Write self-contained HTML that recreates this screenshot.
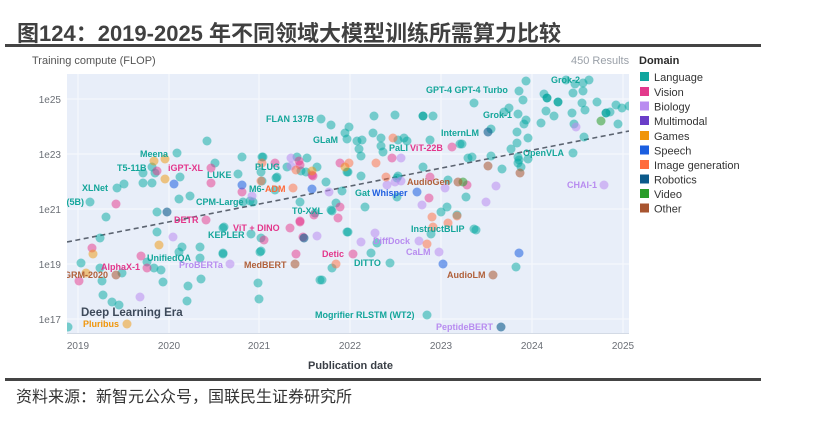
<!DOCTYPE html>
<html><head><meta charset="utf-8"><style>
html,body{margin:0;padding:0;background:#fff;}
svg{display:block;}
.t{font-family:"Liberation Sans",sans-serif;}
.L{fill:#00a8a0;fill-opacity:.5}
.Ld{fill:#00a39b;fill-opacity:.8}
.V{fill:#e6348a;fill-opacity:.5}
.B{fill:#b98cf0;fill-opacity:.55}
.G{fill:#f0950a;fill-opacity:.5}
.S{fill:#1a5ee0;fill-opacity:.55}
.I{fill:#ff6b3d;fill-opacity:.5}
.R{fill:#0b5a8a;fill-opacity:.6}
.D{fill:#2a9d2a;fill-opacity:.55}
.O{fill:#a85530;fill-opacity:.55}
.lb{font-family:"Liberation Sans",sans-serif;font-weight:bold;font-size:9px;}
.cL{fill:#14a69a}.cV{fill:#e3368b}.cB{fill:#b88cf0}.cO{fill:#b0603a}.cS{fill:#1f5fe0}.cI{fill:#ff6a3a}.cG{fill:#f0950a}
</style></head><body>
<svg width="816" height="432" viewBox="0 0 816 432" xmlns="http://www.w3.org/2000/svg">
<defs><clipPath id="pc"><rect x="67" y="74" width="562" height="259"/></clipPath></defs>
<!-- Title -->
<text x="17" y="41" font-family="'Liberation Sans','Noto Sans CJK SC',sans-serif" font-weight="bold" font-size="22" fill="#404040">图124：2019-2025 年不同领域大模型训练所需算力比较</text>
<rect x="5" y="44" width="756" height="3" fill="#444"/>
<!-- chart header -->
<text class="t" x="32" y="64" font-size="11" fill="#555">Training compute (FLOP)</text>
<text class="t" x="571" y="64" font-size="11" fill="#9aa0a8">450 Results</text>
<text class="t" x="639" y="64" font-size="11" font-weight="bold" fill="#2a2a2a">Domain</text>
<!-- plot bg -->
<rect x="67" y="74" width="562" height="259" fill="#e8eef9"/>
<g stroke="#f7f9fd" stroke-width="1">
<line x1="78" y1="74" x2="78" y2="333"/><line x1="169" y1="74" x2="169" y2="333"/><line x1="259" y1="74" x2="259" y2="333"/><line x1="350" y1="74" x2="350" y2="333"/><line x1="441" y1="74" x2="441" y2="333"/><line x1="532" y1="74" x2="532" y2="333"/><line x1="623" y1="74" x2="623" y2="333"/>
<line x1="67" y1="99" x2="629" y2="99"/><line x1="67" y1="154" x2="629" y2="154"/><line x1="67" y1="209" x2="629" y2="209"/><line x1="67" y1="264" x2="629" y2="264"/><line x1="67" y1="319" x2="629" y2="319"/>
</g>
<line x1="67" y1="333.5" x2="629" y2="333.5" stroke="#d3dae5" stroke-width="1"/>
<!-- y ticks -->
<g class="t" font-size="10" fill="#6b6f76" text-anchor="end">
<text x="61" y="103">1e25</text><text x="61" y="158">1e23</text><text x="61" y="213">1e21</text><text x="61" y="268">1e19</text><text x="61" y="323">1e17</text>
</g>
<g class="t" font-size="10" fill="#6b6f76" text-anchor="middle">
<text x="78" y="349">2019</text><text x="169" y="349">2020</text><text x="259" y="349">2021</text><text x="350" y="349">2022</text><text x="441" y="349">2023</text><text x="532" y="349">2024</text><text x="623" y="349">2025</text>
</g>
<text class="t" x="308" y="369" font-size="11" font-weight="bold" fill="#3a3f46">Publication date</text>
<g clip-path="url(#pc)">
<!-- trend -->
<line x1="67" y1="242" x2="629" y2="131" stroke="#5b6370" stroke-width="1.6" stroke-dasharray="5,3.5"/>
<g>
<!-- Language -->
<g class="L">
<circle cx="90" cy="202" r="4.5"/><circle cx="106" cy="217" r="4.5"/><circle cx="117" cy="188" r="4.5"/><circle cx="124" cy="184" r="4.5"/><circle cx="177" cy="153" r="4.5"/><circle cx="207" cy="141" r="4.5"/><circle cx="143" cy="173" r="4.5"/><circle cx="152" cy="167" r="4.5"/><circle cx="155" cy="173" r="4.5"/><circle cx="143" cy="183" r="4.5"/><circle cx="152" cy="183" r="4.5"/><circle cx="180" cy="177" r="4.5"/><circle cx="215" cy="163" r="4.5"/><circle cx="238" cy="174" r="4.5"/><circle cx="242" cy="157" r="4.5"/><circle cx="263" cy="157" r="4.5"/><circle cx="287" cy="167" r="4.5"/><circle cx="301" cy="171" r="4.5"/><circle cx="307" cy="158" r="4.5"/><circle cx="306" cy="172" r="4.5"/><circle cx="276" cy="178" r="4.5"/><circle cx="275" cy="190" r="4.5"/><circle cx="253" cy="202" r="4.5"/><circle cx="190" cy="196" r="4.5"/><circle cx="179" cy="199" r="4.5"/><circle cx="157" cy="212" r="4.5"/><circle cx="224" cy="227" r="4.5"/><circle cx="300" cy="202" r="4.5"/><circle cx="251" cy="234" r="4.5"/><circle cx="157" cy="232" r="4.5"/><circle cx="100" cy="238" r="4.5"/><circle cx="147" cy="262" r="4.5"/><circle cx="182" cy="247" r="4.5"/><circle cx="179" cy="252" r="4.5"/><circle cx="200" cy="258" r="4.5"/><circle cx="223" cy="254" r="4.5"/><circle cx="260" cy="252" r="4.5"/><circle cx="154" cy="268" r="4.5"/><circle cx="161" cy="270" r="4.5"/><circle cx="81" cy="263" r="4.5"/><circle cx="100" cy="268" r="4.5"/><circle cx="122" cy="273" r="4.5"/><circle cx="102" cy="281" r="4.5"/><circle cx="163" cy="282" r="4.5"/><circle cx="188" cy="286" r="4.5"/><circle cx="201" cy="279" r="4.5"/><circle cx="258" cy="283" r="4.5"/><circle cx="259" cy="299" r="4.5"/><circle cx="187" cy="301" r="4.5"/><circle cx="103" cy="295" r="4.5"/><circle cx="112" cy="302" r="4.5"/><circle cx="119" cy="305" r="4.5"/><circle cx="68" cy="327" r="4.5"/><circle cx="320" cy="280" r="4.5"/><circle cx="474" cy="229" r="4.5"/><circle cx="476" cy="230" r="4.5"/><circle cx="431" cy="234" r="4.5"/><circle cx="348" cy="232" r="4.5"/><circle cx="377" cy="243" r="4.5"/><circle cx="371" cy="253" r="4.5"/><circle cx="332" cy="268" r="4.5"/><circle cx="390" cy="263" r="4.5"/><circle cx="516" cy="267" r="4.5"/><circle cx="322" cy="280" r="4.5"/><circle cx="427" cy="315" r="4.5"/><circle cx="321" cy="119" r="4.5"/><circle cx="331" cy="125" r="4.5"/><circle cx="349" cy="127" r="4.5"/><circle cx="345" cy="133" r="4.5"/><circle cx="347" cy="139" r="4.5"/><circle cx="374" cy="116" r="4.5"/><circle cx="395" cy="115" r="4.5"/><circle cx="433" cy="116" r="4.5"/><circle cx="373" cy="133" r="4.5"/><circle cx="381" cy="138" r="4.5"/><circle cx="398" cy="140" r="4.5"/><circle cx="404" cy="138" r="4.5"/><circle cx="407" cy="141" r="4.5"/><circle cx="357" cy="141" r="4.5"/><circle cx="362" cy="140" r="4.5"/><circle cx="359" cy="149" r="4.5"/><circle cx="381" cy="146" r="4.5"/><circle cx="383" cy="152" r="4.5"/><circle cx="361" cy="156" r="4.5"/><circle cx="430" cy="140" r="4.5"/><circle cx="262" cy="157" r="4.5"/><circle cx="297" cy="157" r="4.5"/><circle cx="317" cy="167" r="4.5"/><circle cx="348" cy="172" r="4.5"/><circle cx="326" cy="182" r="4.5"/><circle cx="361" cy="176" r="4.5"/><circle cx="397" cy="178" r="4.5"/><circle cx="423" cy="167" r="4.5"/><circle cx="448" cy="180" r="4.5"/><circle cx="342" cy="191" r="4.5"/><circle cx="331" cy="210" r="4.5"/><circle cx="336" cy="203" r="4.5"/><circle cx="365" cy="207" r="4.5"/><circle cx="441" cy="212" r="4.5"/><circle cx="447" cy="207" r="4.5"/><circle cx="519" cy="91" r="4.5"/><circle cx="526" cy="81" r="4.5"/><circle cx="583" cy="83" r="4.5"/><circle cx="575" cy="84" r="4.5"/><circle cx="589" cy="80" r="4.5"/><circle cx="566" cy="80" r="4.5"/><circle cx="523" cy="100" r="4.5"/><circle cx="474" cy="103" r="4.5"/><circle cx="544" cy="94" r="4.5"/><circle cx="573" cy="93" r="4.5"/><circle cx="583" cy="91" r="4.5"/><circle cx="582" cy="103" r="4.5"/><circle cx="597" cy="102" r="4.5"/><circle cx="616" cy="105" r="4.5"/><circle cx="622" cy="108" r="4.5"/><circle cx="629" cy="106" r="4.5"/><circle cx="585" cy="110" r="4.5"/><circle cx="546" cy="111" r="4.5"/><circle cx="554" cy="116" r="4.5"/><circle cx="572" cy="113" r="4.5"/><circle cx="610" cy="112" r="4.5"/><circle cx="574" cy="124" r="4.5"/><circle cx="618" cy="124" r="4.5"/><circle cx="518" cy="114" r="4.5"/><circle cx="509" cy="108" r="4.5"/><circle cx="504" cy="112" r="4.5"/><circle cx="526" cy="120" r="4.5"/><circle cx="524" cy="124" r="4.5"/><circle cx="541" cy="123" r="4.5"/><circle cx="517" cy="132" r="4.5"/><circle cx="528" cy="138" r="4.5"/><circle cx="511" cy="149" r="4.5"/><circle cx="517" cy="143" r="4.5"/><circle cx="584" cy="137" r="4.5"/><circle cx="573" cy="153" r="4.5"/><circle cx="491" cy="129" r="4.5"/><circle cx="460" cy="144" r="4.5"/><circle cx="462" cy="144" r="4.5"/><circle cx="518" cy="157" r="4.5"/><circle cx="519" cy="160" r="4.5"/><circle cx="528" cy="159" r="4.5"/><circle cx="518" cy="163" r="4.5"/><circle cx="521" cy="167" r="4.5"/><circle cx="491" cy="156" r="4.5"/><circle cx="502" cy="169" r="4.5"/><circle cx="468" cy="158" r="4.5"/><circle cx="472" cy="157" r="4.5"/><circle cx="466" cy="197" r="4.5"/><circle cx="261" cy="172" r="4.5"/><circle cx="277" cy="177" r="4.5"/><circle cx="243" cy="202" r="4.5"/><circle cx="332" cy="211" r="4.5"/><circle cx="315" cy="213" r="4.5"/><circle cx="347" cy="172" r="4.5"/><circle cx="398" cy="176" r="4.5"/><circle cx="397" cy="197" r="4.5"/><circle cx="261" cy="238" r="4.5"/><circle cx="223" cy="228" r="4.5"/><circle cx="347" cy="232" r="4.5"/><circle cx="261" cy="251" r="4.5"/><circle cx="223" cy="253" r="4.5"/><circle cx="200" cy="247" r="4.5"/><circle cx="250" cy="201" r="4.5"/><circle cx="262" cy="181" r="4.5"/><circle cx="457" cy="215" r="4.5"/>
</g>
<g class="Ld"><circle cx="547" cy="98" r="4.5"/><circle cx="558" cy="102" r="4.5"/><circle cx="606" cy="113" r="4.5"/><circle cx="423" cy="116" r="4.5"/></g>
<g class="V">
<circle cx="116" cy="204" r="4.5"/><circle cx="157" cy="171" r="4.5"/><circle cx="211" cy="168" r="4.5"/><circle cx="211" cy="183" r="4.5"/><circle cx="300" cy="165" r="4.5"/><circle cx="299" cy="161" r="4.5"/><circle cx="312" cy="175" r="4.5"/><circle cx="275" cy="163" r="4.5"/><circle cx="242" cy="192" r="4.5"/><circle cx="206" cy="220" r="4.5"/><circle cx="300" cy="221" r="4.5"/><circle cx="314" cy="215" r="4.5"/><circle cx="290" cy="228" r="4.5"/><circle cx="300" cy="222" r="4.5"/><circle cx="92" cy="248" r="4.5"/><circle cx="141" cy="256" r="4.5"/><circle cx="264" cy="240" r="4.5"/><circle cx="296" cy="254" r="4.5"/><circle cx="303" cy="237" r="4.5"/><circle cx="147" cy="268" r="4.5"/><circle cx="79" cy="281" r="4.5"/><circle cx="353" cy="254" r="4.5"/><circle cx="392" cy="158" r="4.5"/><circle cx="340" cy="163" r="4.5"/><circle cx="338" cy="218" r="4.5"/><circle cx="340" cy="207" r="4.5"/><circle cx="429" cy="198" r="4.5"/><circle cx="430" cy="177" r="4.5"/><circle cx="452" cy="147" r="4.5"/><circle cx="467" cy="185" r="4.5"/><circle cx="313" cy="176" r="4.5"/>
</g>
<g class="B">
<circle cx="291" cy="158" r="4.5"/><circle cx="291" cy="166" r="4.5"/><circle cx="252" cy="196" r="4.5"/><circle cx="173" cy="237" r="4.5"/><circle cx="140" cy="297" r="4.5"/><circle cx="230" cy="264" r="4.5"/><circle cx="317" cy="236" r="4.5"/><circle cx="375" cy="233" r="4.5"/><circle cx="361" cy="242" r="4.5"/><circle cx="419" cy="241" r="4.5"/><circle cx="439" cy="252" r="4.5"/><circle cx="401" cy="158" r="4.5"/><circle cx="401" cy="181" r="4.5"/><circle cx="329" cy="192" r="4.5"/><circle cx="422" cy="205" r="4.5"/><circle cx="576" cy="127" r="4.5"/><circle cx="496" cy="186" r="4.5"/><circle cx="486" cy="202" r="4.5"/><circle cx="445" cy="188" r="4.5"/><circle cx="604" cy="185" r="4.5"/><circle cx="387" cy="185" r="4.5"/><circle cx="395" cy="182" r="4.5"/>
</g>
<g class="G"><circle cx="154" cy="161" r="4.5"/><circle cx="165" cy="159" r="4.5"/><circle cx="165" cy="179" r="4.5"/><circle cx="312" cy="171" r="4.5"/><circle cx="93" cy="254" r="4.5"/><circle cx="159" cy="245" r="4.5"/><circle cx="86" cy="273" r="4.5"/><circle cx="127" cy="324" r="4.5"/><circle cx="345" cy="167" r="4.5"/></g>
<g class="S"><circle cx="174" cy="184" r="4.5"/><circle cx="242" cy="185" r="4.5"/><circle cx="312" cy="189" r="4.5"/><circle cx="443" cy="264" r="4.5"/><circle cx="519" cy="253" r="4.5"/><circle cx="417" cy="192" r="4.5"/></g>
<g class="I"><circle cx="296" cy="170" r="4.5"/><circle cx="262" cy="163" r="4.5"/><circle cx="261" cy="181" r="4.5"/><circle cx="293" cy="188" r="4.5"/><circle cx="336" cy="264" r="4.5"/><circle cx="427" cy="244" r="4.5"/><circle cx="448" cy="223" r="4.5"/><circle cx="433" cy="227" r="4.5"/><circle cx="393" cy="138" r="4.5"/><circle cx="376" cy="163" r="4.5"/><circle cx="349" cy="163" r="4.5"/><circle cx="386" cy="177" r="4.5"/><circle cx="432" cy="217" r="4.5"/><circle cx="457" cy="216" r="4.5"/></g>
<g class="R"><circle cx="167" cy="212" r="4.5"/><circle cx="304" cy="238" r="4.5"/><circle cx="501" cy="327" r="4.5"/><circle cx="488" cy="132" r="4.5"/></g>
<g class="D"><circle cx="463" cy="182" r="4.5"/><circle cx="601" cy="121" r="4.5"/></g>
<g class="O"><circle cx="116" cy="275" r="4.5"/><circle cx="295" cy="264" r="4.5"/><circle cx="493" cy="275" r="4.5"/><circle cx="458" cy="182" r="4.5"/><circle cx="488" cy="166" r="4.5"/><circle cx="520" cy="173" r="4.5"/></g>
</g>
<!-- labels -->
<g class="lb">
<text class="cL" x="84" y="205" text-anchor="end">(5B)</text>
<text class="cL" x="82" y="191">XLNet</text>
<text class="cL" x="140" y="157">Meena</text>
<text class="cL" x="117" y="171">T5-11B</text>
<text class="cL" x="207" y="178">LUKE</text>
<text class="cL" x="255" y="170">PLUG</text>
<text class="cL" x="249" y="192">M6-</text>
<text class="cI" x="265" y="192">ADM</text>
<text class="cL" x="196" y="205">CPM-Large</text>
<text class="cL" x="292" y="214">T0-XXL</text>
<text class="cL" x="208" y="238">KEPLER</text>
<text class="cL" x="147" y="261">UnifiedQA</text>
<text class="cL" x="266" y="122">FLAN 137B</text>
<text class="cL" x="313" y="143">GLaM</text>
<text class="cL" x="389" y="151">PaLI</text>
<text class="cL" x="355" y="196">Gat</text>
<text class="cS" x="372" y="196">Whisper</text>
<text class="cL" x="411" y="232">InstructBLIP</text>
<text class="cL" x="354" y="266">DITTO</text>
<text class="cL" x="315" y="318">Mogrifier RLSTM (WT2)</text>
<text class="cL" x="426" y="93">GPT-4 GPT-4 Turbo</text>
<text class="cL" x="551" y="83">Grok-2</text>
<text class="cL" x="483" y="118">Grok-1</text>
<text class="cL" x="441" y="136">InternLM</text>
<text class="cL" x="523" y="156">OpenVLA</text>
<text class="cV" x="168" y="171">iGPT-XL</text>
<text class="cV" x="174" y="223">DETR</text>
<text class="cV" x="233" y="231">ViT + DINO</text>
<text class="cV" x="101" y="270">AlphaX-1</text>
<text class="cV" x="322" y="257">Detic</text>
<text class="cV" x="410" y="151">ViT-22B</text>
<text class="cB" x="179" y="268">ProBERTa</text>
<text class="cB" x="373" y="244">DiffDock</text>
<text class="cB" x="406" y="255">CaLM</text>
<text class="cB" x="567" y="188">CHAI-1</text>
<text class="cB" x="436" y="330">PeptideBERT</text>
<text class="cO" x="108" y="278" text-anchor="end">GRM-2020</text>
<text class="cO" x="244" y="268">MedBERT</text>
<text class="cO" x="407" y="185">AudioGen</text>
<text class="cO" x="447" y="278">AudioLM</text>
<text class="cG" x="83" y="327">Pluribus</text>
</g>
<text class="t" x="81" y="316" font-size="11.5" font-weight="bold" fill="#3e4a5a">Deep Learning Era</text>
</g>
<!-- legend -->
<g class="t" font-size="11" fill="#333">
<rect x="640" y="72" width="9" height="9" fill="#0fa69e"/><text x="654" y="81">Language</text>
<rect x="640" y="87" width="9" height="9" fill="#e33a8c"/><text x="654" y="96">Vision</text>
<rect x="640" y="101.5" width="9" height="9" fill="#b98cf0"/><text x="654" y="110.5">Biology</text>
<rect x="640" y="116" width="9" height="9" fill="#6a3dc8"/><text x="654" y="125">Multimodal</text>
<rect x="640" y="131" width="9" height="9" fill="#f0950a"/><text x="654" y="140">Games</text>
<rect x="640" y="145.5" width="9" height="9" fill="#1a5ee0"/><text x="654" y="154.5">Speech</text>
<rect x="640" y="160" width="9" height="9" fill="#ff6b3d"/><text x="654" y="169">Image generation</text>
<rect x="640" y="174.5" width="9" height="9" fill="#0b5a8a"/><text x="654" y="183.5">Robotics</text>
<rect x="640" y="189" width="9" height="9" fill="#2a9d2a"/><text x="654" y="198">Video</text>
<rect x="640" y="203.5" width="9" height="9" fill="#a85530"/><text x="654" y="212.5">Other</text>
</g>
<!-- footer -->
<rect x="5" y="378" width="756" height="3" fill="#444"/>
<text x="16" y="402" font-family="'Liberation Sans','Noto Sans CJK SC',sans-serif" font-size="16" fill="#333">资料来源：新智元公众号，国联民生证券研究所</text>
</svg>
</body></html>
